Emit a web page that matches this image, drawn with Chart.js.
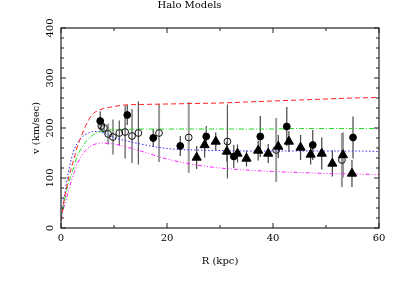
<!DOCTYPE html>
<html><head><meta charset="utf-8">
<script src="https://cdn.jsdelivr.net/npm/chart.js@4/dist/chart.umd.min.js"></script>
<style>html,body{margin:0;padding:0;background:#fff}#wrap{width:401px;height:284px}</style>
</head><body><div id="wrap"><canvas id="c" width="401" height="284"></canvas></div>
<script>
const titleText = "Halo Models";
const xTitle = "R (kpc)";
const yTitle = "v (km/sec)";
const xTickValues = [0, 20, 40, 60];
const yTickValues = [0, 100, 200, 300, 400];

// model curves
const curveR       = [0, 0.5, 1, 1.5, 2, 2.5, 3, 4, 5, 6, 7, 8, 9, 10, 12, 15, 20, 25, 30, 35, 40, 45, 50, 55, 60];
const redModel     = [15, 50, 78, 103, 122, 140, 160, 188, 212, 228, 235, 239, 241, 243, 246, 247, 248, 249, 250, 252, 254, 256, 258, 260, 261];
const greenModel   = [15, 45, 72, 92, 108, 124, 142, 162, 176, 186, 191, 194, 196, 197, 197, 198, 198, 198, 198, 198, 198, 199, 199, 199, 199];
const blueModel    = [15, 55, 88, 117, 140, 157, 168, 182, 189, 193, 193, 190, 186, 181, 175, 168, 159, 156, 155, 154, 154, 154, 154, 154, 153];
const magentaModel = [15, 40, 58, 78, 96, 111, 126, 146, 159, 166, 169, 170, 169, 168, 163, 154, 138, 127, 120, 116, 113, 111, 109, 108, 107];

// observations
const filledR   = [7.4, 12.5, 17.4, 22.5, 27.4, 32.6, 37.6, 42.6, 47.5, 55.1];
const filledV   = [214, 226, 180, 164, 183, 143, 183, 203, 166, 181];
const filledErr = [19, 20, 18, 20, 21, 23, 41, 39, 30, 42];

const openAR   = [7.6, 8.1, 8.9, 9.8, 18.5, 24.1, 40.6, 53.0];
const openAV   = [204, 200, 188, 182, 190, 181, 156, 136];
const openAErr = [8, 10, 21, 35, 58, 71, 64, 54];

const openBR   = [11.0, 12.1, 13.4, 14.6, 31.4];
const openBV   = [190, 192, 184, 190, 173];
const openBErr = [25, 53, 54, 63, 74];

const triR   = [25.6, 27.1, 29.2, 31.3, 33.3, 35.0, 37.2, 39.1, 41.0, 43.0, 45.2, 47.1, 49.2, 51.2, 53.2, 54.9];
const triV   = [141, 166, 173, 153, 149, 139, 155, 149, 163, 173, 161, 147, 149, 129, 146, 109];
const triErr = [23, 25, 18, 20, 18, 16, 20, 19, 23, 21, 25, 20, 32, 26, 45, 27];

const FONT = "'DejaVu Serif', 'Liberation Serif', serif";
const pts = (xs, ys) => xs.map((x, i) => ({x: x, y: ys[i]}));

const errorBarPlugin = {
  id: 'errbars',
  beforeDatasetsDraw(chart) {
    const {ctx, scales: {x, y}} = chart;
    ctx.save();
    chart.data.datasets.forEach(ds => {
      if (!ds.errors) return;
      ctx.strokeStyle = ds.errColor;
      ctx.lineWidth = ds.errWidth;
      ds.data.forEach((p, i) => {
        const px = x.getPixelForValue(p.x);
        ctx.beginPath();
        ctx.moveTo(px, y.getPixelForValue(p.y + ds.errors[i]));
        ctx.lineTo(px, y.getPixelForValue(p.y - ds.errors[i]));
        ctx.stroke();
      });
    });
    ctx.restore();
  }
};

const framePlugin = {
  id: 'frame',
  afterDraw(chart) {
    const {ctx, chartArea: a, scales: {x, y}} = chart;
    ctx.save();
    ctx.strokeStyle = '#222';
    ctx.lineWidth = 1.2;
    ctx.strokeRect(a.left, a.top, a.right - a.left, a.bottom - a.top);
    ctx.lineWidth = 1;
    ctx.beginPath();
    for (let v = x.min; v <= x.max; v += 10) {
      const px = x.getPixelForValue(v);
      const len = (v % 20 === 0) ? 5 : 3;
      ctx.moveTo(px, a.bottom); ctx.lineTo(px, a.bottom - len);
      ctx.moveTo(px, a.top); ctx.lineTo(px, a.top + len);
    }
    for (let v = y.min; v <= y.max; v += 20) {
      const py = y.getPixelForValue(v);
      const len = (v % 100 === 0) ? 5 : 3;
      ctx.moveTo(a.left, py); ctx.lineTo(a.left + len, py);
      ctx.moveTo(a.right, py); ctx.lineTo(a.right - len, py);
    }
    ctx.stroke();
    ctx.restore();
  }
};

const curveDs = (data, color, dash) => ({
  data: pts(curveR, data), showLine: true, pointRadius: 0, borderColor: color,
  borderWidth: 1, borderDash: dash, cubicInterpolationMode: 'monotone', fill: false
});

new Chart(document.getElementById('c'), {
  type: 'scatter',
  data: {
    datasets: [
      {data: pts(triR, triV), errors: triErr, errColor: '#444', errWidth: 1.2,
       pointStyle: 'triangle', pointRadius: 5.3, backgroundColor: '#000', borderColor: '#000', borderWidth: 1},
      {data: pts(filledR, filledV), errors: filledErr, errColor: '#444', errWidth: 1.2,
       pointStyle: 'circle', pointRadius: 3.4, backgroundColor: '#000', borderColor: '#000', borderWidth: 1},
      {data: pts(openBR, openBV), errors: openBErr, errColor: '#555', errWidth: 1.2,
       pointStyle: 'circle', pointRadius: 3.4, backgroundColor: 'rgba(255,255,255,0)', borderColor: '#111', borderWidth: 1},
      {data: pts(openAR, openAV), errors: openAErr, errColor: '#999', errWidth: 2,
       pointStyle: 'circle', pointRadius: 3.4, backgroundColor: 'rgba(255,255,255,0)', borderColor: '#111', borderWidth: 1},
      curveDs(redModel, '#ff2020', [5, 3]),
      curveDs(greenModel, '#20e020', [5, 2, 1, 2]),
      curveDs(blueModel, '#3030ff', [1.5, 2]),
      curveDs(magentaModel, '#ff20ff', [4, 2, 1, 2, 1, 2])
    ]
  },
  options: {
    responsive: false, animation: false, devicePixelRatio: 1,
    layout: {padding: {left: 0, right: 22, top: 0, bottom: 0}},
    plugins: {
      legend: {display: false}, tooltip: {enabled: false},
      title: {display: true, text: titleText, color: '#000',
              font: {family: FONT, size: 10, weight: 'normal', lineHeight: 1},
              padding: {top: 0, bottom: 18}}
    },
    scales: {
      x: {
        type: 'linear', min: 0, max: 60,
        afterBuildTicks: s => { s.ticks = xTickValues.map(v => ({value: v})); },
        grid: {display: false, drawTicks: false}, border: {display: false},
        ticks: {color: '#000', font: {family: FONT, size: 10}, padding: 4, maxRotation: 0, autoSkip: false},
        title: {display: true, text: xTitle, color: '#000', font: {family: FONT, size: 10, lineHeight: 1.2},
                padding: {top: 0, bottom: 17}},
        afterFit: s => { s.height = 56; }
      },
      y: {
        type: 'linear', min: 0, max: 400,
        afterBuildTicks: s => { s.ticks = yTickValues.map(v => ({value: v})); },
        grid: {display: false, drawTicks: false}, border: {display: false},
        ticks: {color: '#000', font: {family: FONT, size: 10}, padding: 1.5, minRotation: 90, maxRotation: 90,
                crossAlign: 'center', autoSkip: false},
        title: {display: true, text: yTitle, color: '#000', font: {family: FONT, size: 10, lineHeight: 1.2},
                padding: {top: 30, bottom: 0}},
        afterFit: s => { s.width = 61; }
      }
    }
  },
  plugins: [errorBarPlugin, framePlugin]
});
</script>
</body></html>
